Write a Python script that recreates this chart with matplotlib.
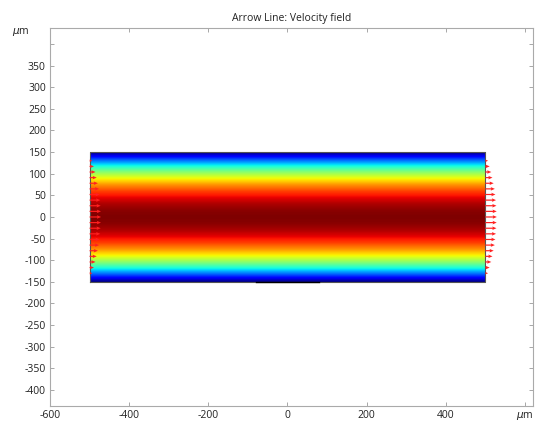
import numpy as np
import matplotlib
matplotlib.use("Agg")
import matplotlib.pyplot as plt

# Velocity magnitude profile across the channel (normalized), read from the colour field
profile_y = [-150, -135, -120, -105, -90, -75, -60, -45, -30, -15, 0,
             15, 30, 45, 60, 75, 90, 105, 120, 135, 150]
profile_v = [0.0, 0.19, 0.36, 0.51, 0.64, 0.75, 0.84, 0.91, 0.96, 0.99, 1.0,
             0.99, 0.96, 0.91, 0.84, 0.75, 0.64, 0.51, 0.36, 0.19, 0.0]

# Arrow positions and lengths (µm) at inlet/outlet
arrow_y = [-130, -117, -104, -91, -78, -65, -52, -39, -26, -13, 0,
           13, 26, 39, 52, 65, 78, 91, 104, 117, 130]
arrow_len = [7, 11, 15, 18, 21, 24, 25.5, 27, 28, 28.7, 29,
             28.7, 28, 27, 25.5, 24, 21, 18, 15, 11, 7]
inlet_x = -500
outlet_x = 500

xticks = [-600, -400, -200, 0, 200, 400, 600]
xticklabels = ["-600", "-400", "-200", "0", "200", "400", ""]
yticks = list(range(-400, 401, 50))
yticklabels = [str(v) for v in yticks]
yticklabels[-1] = ""

plt.rcParams['font.family'] = ['Open Sans', 'DejaVu Sans']

fig = plt.figure(figsize=(5.35, 4.24), dpi=100)
ax = fig.add_axes([0.0935, 0.0425, 0.9025, 0.8915])

# colour field
yy = np.linspace(-150, 150, 301)
vv = np.interp(yy, profile_y, profile_v)
field = np.tile(vv[:, None], (1, 10))
ax.imshow(field, cmap='jet', extent=[-500, 500, -150, 150], origin='lower',
          aspect='auto', interpolation='bilinear', vmin=0, vmax=1, zorder=1)
ax.plot([-500, 500, 500, -500, -500], [-150, -150, 150, 150, -150],
        color='#555555', lw=0.8, zorder=2)
ax.plot([-80, 80], [-150, -150], color='black', lw=1.0, zorder=3)

ax.quiver([inlet_x] * len(arrow_y), arrow_y, arrow_len, [0] * len(arrow_y),
          angles='xy', scale_units='xy', scale=1, color='#ff2020',
          width=0.0025, headwidth=3, headlength=3.5, headaxislength=3, zorder=4)
ax.quiver([outlet_x] * len(arrow_y), arrow_y, arrow_len, [0] * len(arrow_y),
          angles='xy', scale_units='xy', scale=1, color='#ff2020',
          width=0.0025, headwidth=3, headlength=3.5, headaxislength=3, zorder=4)

ax.set_xlim(-600, 620)
ax.set_ylim(-437, 437)
ax.set_xticks(xticks)
ax.set_xticklabels(xticklabels)
ax.set_yticks(yticks)
ax.set_yticklabels(yticklabels)
ax.tick_params(direction='in', length=3, width=0.6, color='#999999',
               labelsize=7.5, labelcolor='#222222', top=True, right=True, pad=3)
for s in ax.spines.values():
    s.set_color('#aaaaaa')
    s.set_linewidth(0.8)

ax.set_title("Arrow Line: Velocity field", fontsize=7.5, pad=5, color='#222222')
fig.text(0.022, 0.925, r"$\mu$m", fontsize=7.5, color='#222222', ha='left', va='center')
fig.text(0.965, 0.018, r"$\mu$m", fontsize=7.5, color='#222222', ha='left', va='center')

fig.savefig("out.png", dpi=100)
